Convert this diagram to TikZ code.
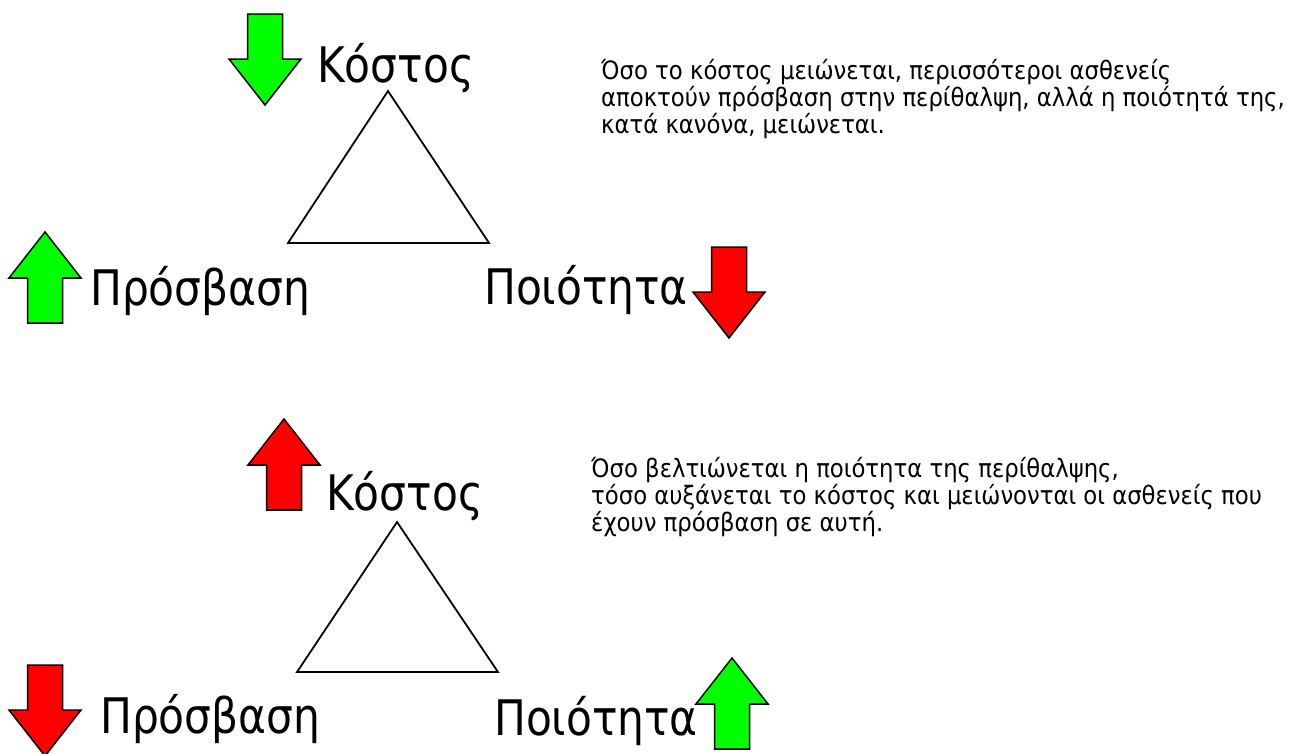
\documentclass[tikz,border=0pt]{standalone}
\usepackage{fontspec}
\setmainfont{DejaVu Sans Condensed}
\newfontfamily\labelfont[FakeStretch=0.96]{DejaVu Sans Condensed}
\begin{document}
\begin{tikzpicture}[x=1pt,y=-1pt,
  label/.style={anchor=base west,inner sep=0pt,font=\labelfont\fontsize{49}{49}\selectfont},
  note/.style={anchor=base west,inner sep=0pt,align=left,font=\fontsize{25.3}{26.8}\selectfont},
  tri/.style={draw=black,line width=1.8pt,line join=miter},
  arrowshape/.style={draw=black,line width=1.5pt,line join=miter},
  pics/arrowup/.style={code={\draw[arrowshape,fill=#1] (0,0) -- (36,46) -- (17.5,46) -- (17.5,91) -- (-17.5,91) -- (-17.5,46) -- (-36,46) -- cycle;}},
  pics/arrowdown/.style={code={\draw[arrowshape,fill=#1] (0,0) -- (36,-46) -- (17.5,-46) -- (17.5,-91) -- (-17.5,-91) -- (-17.5,-46) -- (-36,-46) -- cycle;}}
]
\definecolor{upgreen}{RGB}{0,255,0}
\definecolor{downred}{RGB}{255,0,0}
\useasboundingbox (0,0) rectangle (1296,753);

% ---- first case: cost falls ----
\coordinate (a1) at (388,91);
\coordinate (b1) at (288,243);
\coordinate (c1) at (489,243);
\draw[tri] (a1) -- (b1) -- (c1) -- cycle;
\node[label] (cost1) at (317,82) {Κόστος};
\node[label] (access1) at (90,305) {Πρόσβαση};
\node[label] (quality1) at (484,304) {Ποιότητα};
\pic at (265,105) {arrowdown=upgreen};
\pic at (45,232) {arrowup=upgreen};
\pic at (729,338) {arrowdown=downred};
% base anchor of a multi-line node sits on its last line
\node[note] (text1) at (601,133) {Όσο το κόστος μειώνεται, περισσότεροι ασθενείς\\αποκτούν πρόσβαση στην περίθαλψη, αλλά η ποιότητά της,\\κατά κανόνα, μειώνεται.};

% ---- second case: quality rises ----
\coordinate (a2) at (397,522);
\coordinate (b2) at (297,672);
\coordinate (c2) at (498,672);
\draw[tri] (a2) -- (b2) -- (c2) -- cycle;
\node[label] (cost2) at (326,510) {Κόστος};
\node[label] (access2) at (100,733) {Πρόσβαση};
\node[label] (quality2) at (494,735) {Ποιότητα};
\pic at (284,419) {arrowup=downred};
\pic at (45,756) {arrowdown=downred};
\pic at (732,658) {arrowup=upgreen};
\node[note] (text2) at (591,531) {Όσο βελτιώνεται η ποιότητα της περίθαλψης,\\τόσο αυξάνεται το κόστος και μειώνονται οι ασθενείς που\\έχουν πρόσβαση σε αυτή.};
\end{tikzpicture}
\end{document}
